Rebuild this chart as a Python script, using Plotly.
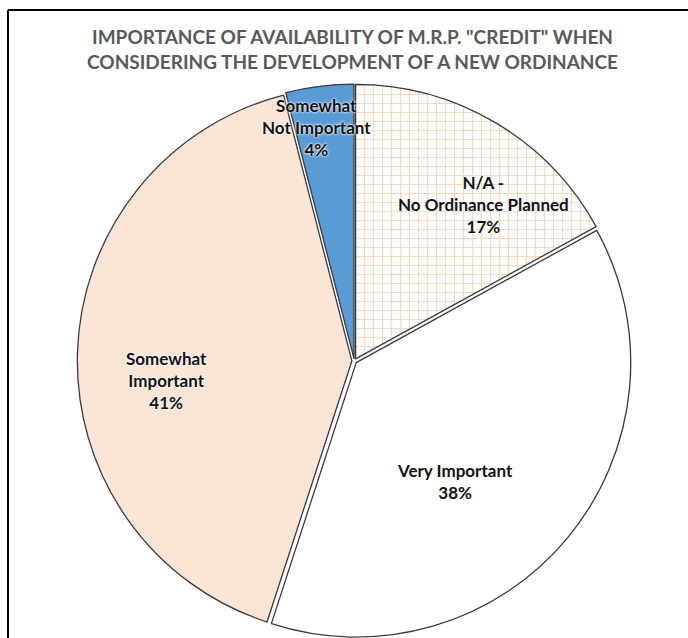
import plotly.graph_objects as go

# Survey responses, clockwise from 12 o'clock
categories = ["N/A -<br>No Ordinance Planned", "Very Important",
              "Somewhat<br>Important", "Somewhat<br>Not Important"]
values = [17, 38, 41, 4]

title_text = ('IMPORTANCE OF AVAILABILITY OF M.R.P. "CREDIT" WHEN<br>'
              'CONSIDERING THE DEVELOPMENT OF A NEW ORDINANCE')

W, H = 688, 638

fill_colors = ["#FFFFFF", "#FFFFFF", "#FBE5D6", "#5B9BD5"]
patterns = ["+", "", "", ""]

# label placement in pixels (x, y) for each slice
label_px = [(483, 204), (455, 481), (166, 381), (316, 128)]

fig = go.Figure()
fig.add_trace(go.Pie(
    labels=categories,
    values=values,
    sort=False,
    direction="clockwise",
    rotation=0,
    pull=[0.009] * len(values),
    textinfo="none",
    hoverinfo="label+percent",
    showlegend=False,
    marker=dict(
        colors=fill_colors,
        line=dict(color="#3A3A3A", width=1.3),
        pattern=dict(shape=patterns, fgcolor="#F4AE7C", bgcolor="#FFFFFF",
                     size=9, solidity=0.25, fillmode="overlay"),
    ),
    domain=dict(x=[0.09, 0.94], y=[0.0, 0.8683]),
))

total = sum(values)
for cat, val, (px, py) in zip(categories, values, label_px):
    fig.add_annotation(
        x=px / W, y=1 - py / H, xref="paper", yref="paper",
        text=f"{cat}<br>{round(100 * val / total)}%",
        showarrow=False, align="center",
        xanchor="center", yanchor="middle",
        font=dict(family="Lato", size=17, color="#111111", weight="bold",
                  shadow="0px 0px 3px #FFFFFF, 0px 0px 2px #FFFFFF"),
    )

fig.add_annotation(
    x=352 / W, y=1 - 49 / H, xref="paper", yref="paper",
    text=title_text, showarrow=False, align="center",
    xanchor="center", yanchor="middle",
    font=dict(family="Lato", size=19, color="#595959", weight="bold"),
)

# chart frame (top and left edges)
frame = dict(type="line", xref="paper", yref="paper",
             line=dict(color="#000000", width=2))
fig.add_shape(**frame, x0=8 / W, y0=1 - 10 / H, x1=1.0, y1=1 - 10 / H)
fig.add_shape(**frame, x0=8 / W, y0=1 - 10 / H, x1=8 / W, y1=0.0)

fig.update_layout(
    width=W, height=H,
    margin=dict(l=0, r=0, t=0, b=0),
    paper_bgcolor="#FFFFFF",
    plot_bgcolor="#FFFFFF",
)

fig.write_html("out.html")
